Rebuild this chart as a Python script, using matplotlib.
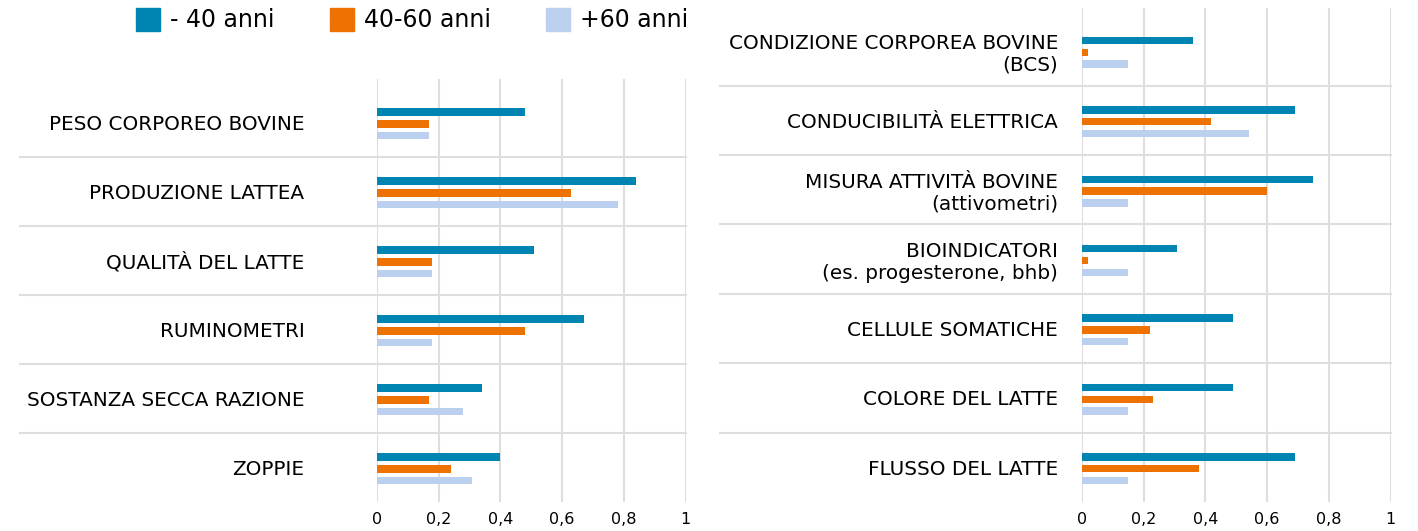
import matplotlib.pyplot as plt
from matplotlib.patches import Patch
import numpy as np

# series names and colours
series = ["- 40 anni", "40-60 anni", "+60 anni"]
colors = ["#0085B2", "#EE7202", "#BAD0EE"]

# left panel
left_cats = ["PESO CORPOREO BOVINE", "PRODUZIONE LATTEA", "QUALITÀ DEL LATTE",
             "RUMINOMETRI", "SOSTANZA SECCA RAZIONE", "ZOPPIE"]
under40_left = [0.48, 0.84, 0.51, 0.67, 0.34, 0.40]
mid_left = [0.17, 0.63, 0.18, 0.48, 0.17, 0.24]
over60_left = [0.17, 0.78, 0.18, 0.18, 0.28, 0.31]

# right panel
right_cats = ["CONDIZIONE CORPOREA BOVINE\n(BCS)", "CONDUCIBILITÀ ELETTRICA",
              "MISURA ATTIVITÀ BOVINE\n(attivometri)",
              "BIOINDICATORI\n(es. progesterone, bhb)", "CELLULE SOMATICHE",
              "COLORE DEL LATTE", "FLUSSO DEL LATTE"]
under40_right = [0.36, 0.69, 0.75, 0.31, 0.49, 0.49, 0.69]
mid_right = [0.02, 0.42, 0.60, 0.02, 0.22, 0.23, 0.38]
over60_right = [0.15, 0.54, 0.15, 0.15, 0.15, 0.15, 0.15]

xticks = [0, 0.2, 0.4, 0.6, 0.8, 1]
xtick_labels = ["0", "0,2", "0,4", "0,6", "0,8", "1"]

W, H = 1418, 531
fig = plt.figure(figsize=(W / 100, H / 100), dpi=100)

grid_col = "#dedede"


def panel(rect, cats, vals, ylim_top, sep_left, label_pad):
    ax = fig.add_axes(rect)
    y = np.arange(len(cats))
    offsets = [-0.15, 0.02, 0.19]
    for v, c, off in zip(vals, colors, offsets):
        ax.barh(y + off, v, height=0.108, color=c, zorder=3)
    ax.set_xlim(0, 1)
    ax.set_ylim(len(cats) - 0.5, ylim_top)
    ax.set_xticks(xticks)
    ax.set_xticklabels(xtick_labels, fontsize=11.5)
    ax.set_yticks(y)
    ax.set_yticklabels(cats, fontsize=14.4, linespacing=1.2)
    ax.tick_params(axis="y", length=0, pad=label_pad)
    ax.tick_params(axis="x", length=0, pad=7.5)
    ax.xaxis.grid(True, color=grid_col, lw=1.5)
    ax.set_axisbelow(True)
    for s in ax.spines.values():
        s.set_visible(False)
    # category separators reaching into the label area
    for i in range(len(cats) - 1):
        ax.plot([sep_left, 1], [i + 0.5, i + 0.5], color=grid_col, lw=1.5,
                transform=ax.get_yaxis_transform(), clip_on=False, zorder=1)
    return ax


panel([376.7 / W, 29 / H, 309 / W, 423 / H], left_cats,
      [under40_left, mid_left, over60_left], -0.63, (20 - 376.7) / 309, 52)
panel([1081.7 / W, 29 / H, 309 / W, 494 / H], right_cats,
      [under40_right, mid_right, over60_right], -0.618, (720 - 1081.7) / 309, 17)

handles = [Patch(color=c) for c in colors]
fig.legend(handles, series, loc="upper left", bbox_to_anchor=(136 / W, 1 - 8 / H),
           ncol=3, frameon=False, fontsize=17, borderpad=0, borderaxespad=0,
           handlelength=1.02, handleheight=1.1, handletextpad=0.42,
           columnspacing=2.33)

plt.savefig("out.png", dpi=100)
